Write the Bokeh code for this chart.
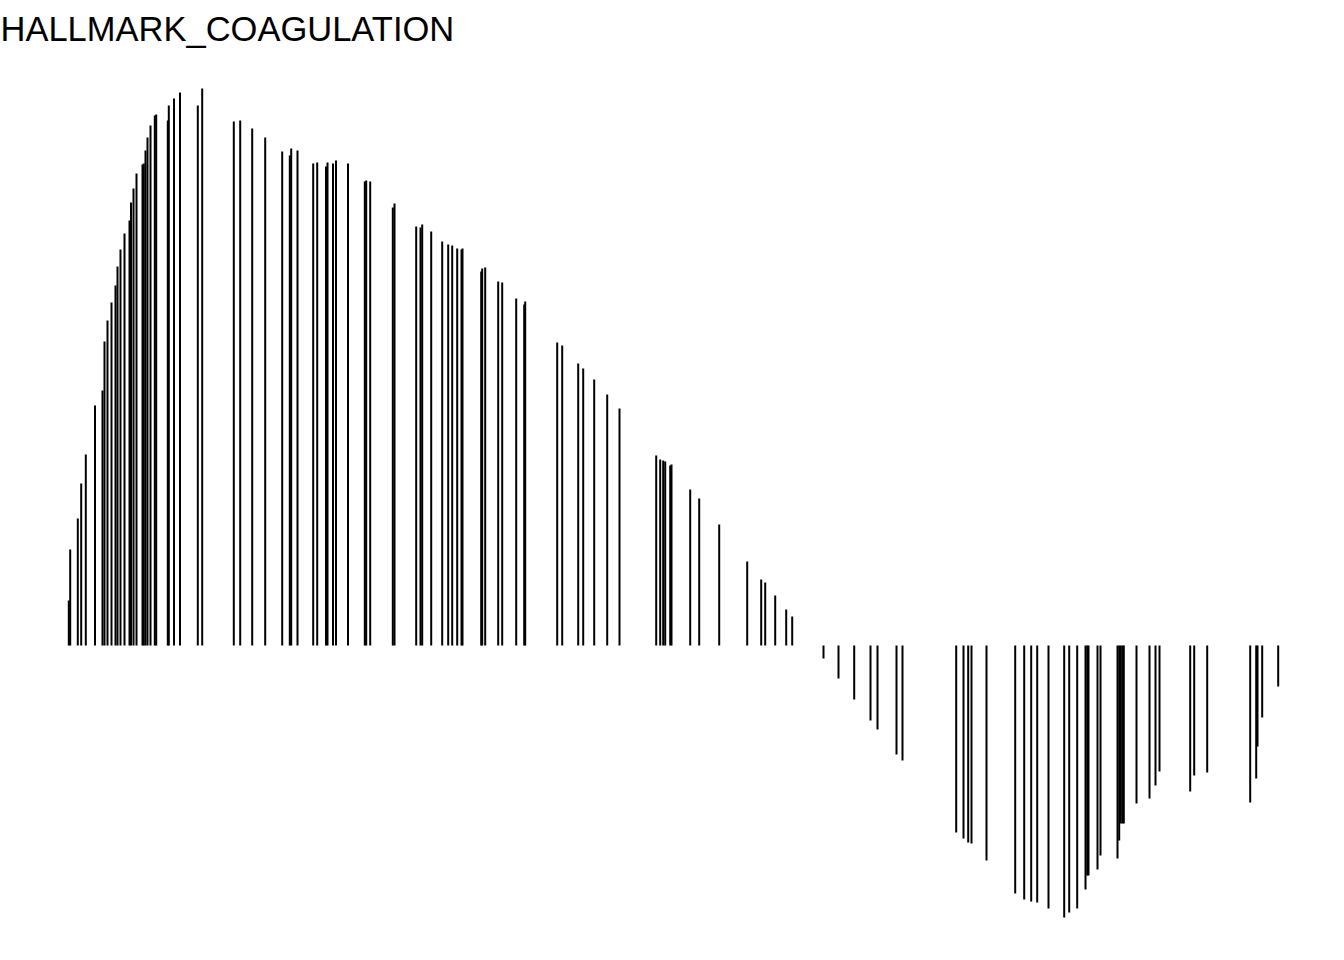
from bokeh.plotting import figure
from bokeh.models import Range1d, Label, ColumnDataSource
from bokeh.embed import file_html
from bokeh.resources import INLINE

title_text = "HALLMARK_COAGULATION"

# gene-set hit positions in the ranked list (rank) and running enrichment score at each hit
hit_rank = [
    73, 87, 163, 197, 243, 335, 410, 430, 460, 500, 540, 560, 590, 630, 680, 695,
    720, 750, 810, 823, 840, 860, 890, 933, 947, 1063, 1073, 1125, 1185, 1363, 1407,
    1723, 1787, 1907, 2037, 2207, 2283, 2297, 2360, 2517, 2557, 2645, 2660, 2715,
    2745, 2865, 3033, 3047, 3087, 3313, 3330, 3547, 3590, 3607, 3697, 3807, 3867,
    3907, 3957, 4000, 4010, 4197, 4207, 4237, 4367, 4407, 4547, 4627, 4637, 4957,
    5007, 5167, 5217, 5327, 5457, 5580, 5947, 5987, 6017, 6037, 6087, 6100, 6287,
    6377, 6577, 6857, 6997, 7037, 7137, 7247, 7307,
    7620, 7770, 7927, 8090, 8160, 8350, 8410, 8947, 9020, 9067, 9100, 9250, 9537,
    9627, 9697, 9757, 9870, 10027, 10077, 10157, 10240, 10257, 10270, 10360, 10390,
    10560, 10577, 10593, 10610, 10623, 10750, 10880, 10940, 10980, 11287, 11327,
    11457, 11887, 11947, 11960, 12007, 12167,
]
running_es = [
    0.045, 0.096, 0.127, 0.162, 0.191, 0.240, 0.255, 0.304, 0.325, 0.343, 0.360,
    0.379, 0.396, 0.412, 0.425, 0.443, 0.457, 0.472, 0.481, 0.482, 0.495, 0.508,
    0.520, 0.530, 0.531, 0.525, 0.540, 0.547, 0.553, 0.540, 0.557,
    0.524, 0.525, 0.517, 0.508, 0.494, 0.490, 0.497, 0.495, 0.482, 0.483, 0.479,
    0.483, 0.482, 0.485, 0.482, 0.464, 0.465, 0.464, 0.438, 0.442, 0.419, 0.418,
    0.421, 0.414, 0.404, 0.401, 0.400, 0.397, 0.396, 0.397, 0.374, 0.377, 0.378,
    0.364, 0.363, 0.347, 0.341, 0.344, 0.303, 0.300, 0.282, 0.277, 0.266, 0.251,
    0.237, 0.190, 0.186, 0.185, 0.184, 0.180, 0.181, 0.156, 0.147, 0.121, 0.084,
    0.066, 0.063, 0.050, 0.036, 0.029,
    -0.013, -0.033, -0.054, -0.075, -0.084, -0.109, -0.115, -0.187, -0.193, -0.197,
    -0.198, -0.215, -0.248, -0.254, -0.256, -0.257, -0.263, -0.272, -0.267, -0.263,
    -0.244, -0.230, -0.230, -0.224, -0.210, -0.213, -0.195, -0.178, -0.178, -0.178,
    -0.158, -0.153, -0.140, -0.126, -0.146, -0.130, -0.127, -0.157, -0.133, -0.101,
    -0.072, -0.041,
]

W, H = 1344, 960
x_lo, x_hi = -610, 12830
y_lo, y_hi = -0.315, 0.645

src = ColumnDataSource(dict(
    x=hit_rank, y0=[0.0] * len(hit_rank), y1=running_es,
))

p = figure(width=W, height=H, output_backend="svg", toolbar_location=None,
           x_range=Range1d(x_lo, x_hi), y_range=Range1d(y_lo, y_hi),
           x_axis_location=None, y_axis_location=None, min_border=0,
           background_fill_color="white", border_fill_color="white")
p.outline_line_color = None
p.xgrid.visible = False
p.ygrid.visible = False

p.segment(x0="x", y0="y0", x1="x", y1="y1", source=src,
          line_color="black", line_width=2.0, line_cap="butt")

p.add_layout(Label(x=x_lo, y=0.617, text=title_text, text_font="Liberation Sans",
                   text_font_size="34.5px", text_color="black",
                   text_align="left", text_baseline="alphabetic"))

open("out.html", "w").write(file_html(p, INLINE))
